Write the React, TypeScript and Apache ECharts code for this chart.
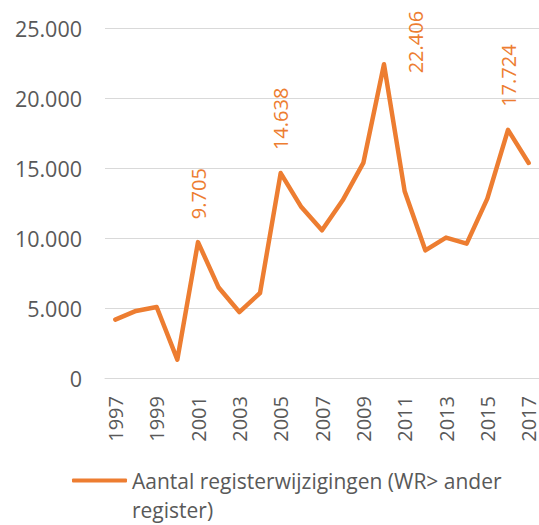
import React, { useEffect, useRef } from "react";
import * as echarts from "echarts";

const years = [
  "1997", "1998", "1999", "2000", "2001", "2002", "2003", "2004", "2005", "2006", "2007",
  "2008", "2009", "2010", "2011", "2012", "2013", "2014", "2015", "2016", "2017",
];
const registerChanges = [
  4170, 4790, 5070, 1310, 9705, 6460, 4710, 6070, 14638, 12210, 10550,
  12690, 15360, 22406, 13340, 9120, 10030, 9600, 12810, 17724, 15360,
];
const labelledYears = ["2001", "2005", "2010", "2016"];
const yTicks = [0, 5000, 10000, 15000, 20000, 25000];
const seriesName = "Aantal registerwijzigingen (WR> ander register)";
const legendLines = ["Aantal registerwijzigingen (WR> ander", "register)"];

const ORANGE = "#ED7D31";
const GREY_TEXT = "#595959";
const GRID = "#D9D9D9";
const FONT = "'Open Sans', sans-serif";

function fmt(v: number): string {
  return String(Math.round(v)).replace(/\B(?=(\d{3})+(?!\d))/g, ".");
}

export default function App() {
  const ref = useRef<HTMLDivElement>(null);
  useEffect(() => {
    if (!ref.current) return;
    const chart = echarts.init(ref.current, null, { renderer: "svg" });
    const data = registerChanges.map((v, i) => {
      const y = years[i];
      if (!labelledYears.includes(y)) return v;
      const special = y === "2010";
      return {
        value: v,
        symbol: "circle",
        symbolSize: 0,
        label: {
          show: true,
          position: special ? [31, 9] : "top",
          distance: 23,
          rotate: 90,
          align: "left",
          verticalAlign: "middle",
          color: ORANGE,
          fontSize: 20,
          fontFamily: FONT,
          formatter: (p: any) => fmt(p.value),
        },
      };
    });
    chart.setOption({
      animation: false,
      grid: { left: 105, top: 28, width: 437, bottom: 147 },
      legend: {
        show: true,
        left: 72,
        top: 437,
        padding: 0,
        itemWidth: 55,
        itemHeight: 4,
        itemGap: 5,
        formatter: () => " \n" + legendLines.join("\n"),
        textStyle: {
          fontSize: 21,
          fontFamily: FONT,
          color: GREY_TEXT,
          lineHeight: 29,
        },
        data: [{ name: seriesName, icon: "roundRect", itemStyle: { color: ORANGE } }],
      },
      xAxis: {
        type: "category",
        data: years,
        boundaryGap: true,
        axisLine: { show: true, lineStyle: { color: GRID, width: 1 } },
        axisTick: { show: false },
        axisLabel: {
          interval: 1,
          rotate: 90,
          margin: 18,
          fontSize: 20,
          fontFamily: FONT,
          color: GREY_TEXT,
        },
      },
      yAxis: {
        type: "value",
        min: yTicks[0],
        max: yTicks[yTicks.length - 1],
        interval: yTicks[1] - yTicks[0],
        axisLine: { show: false },
        axisTick: { show: false },
        splitLine: { lineStyle: { color: GRID, width: 1 } },
        axisLabel: {
          margin: 23,
          fontSize: 21.5,
          fontFamily: FONT,
          color: GREY_TEXT,
          formatter: (v: number) => fmt(v),
        },
      },
      series: [
        {
          name: seriesName,
          type: "line",
          data,
          symbol: "none",
          lineStyle: { color: ORANGE, width: 4.5, cap: "round", join: "round" },
          itemStyle: { color: ORANGE },
        },
      ],
    });
    return () => chart.dispose();
  }, []);
  return (
    <div
      ref={ref}
      style={{ position: "absolute", left: 0, top: 0, width: 539, height: 525, overflow: "hidden" }}
    />
  );
}
